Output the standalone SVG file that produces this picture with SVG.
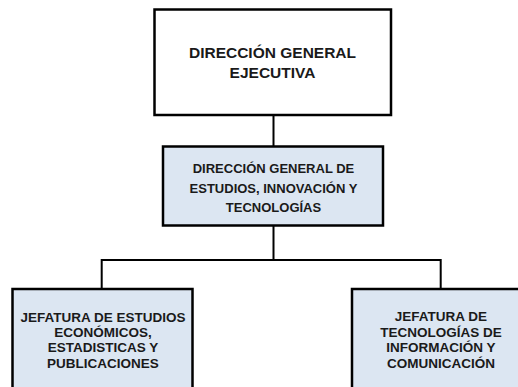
<svg xmlns="http://www.w3.org/2000/svg" width="518" height="387" viewBox="0 0 518 387">
<style>
.box{stroke:#000;stroke-width:2.5}
.white{fill:#fff}
.blue{fill:#dce6f2}
.t{font-family:"Liberation Sans",Arial,sans-serif;font-weight:bold;text-anchor:middle;fill:#1a1a1a}
.conn{stroke:#000;stroke-width:2;fill:none}
</style>
<rect width="518" height="387" fill="#fff"/>
<g id="connectors">
<line class="conn" x1="273.5" y1="115" x2="273.5" y2="146.5"/>
<line class="conn" x1="273.5" y1="225.5" x2="273.5" y2="260"/>
<polyline class="conn" points="101.7,289 101.7,260 440.7,260 440.7,289"/>
</g>
<g id="n_direccion_general_ejecutiva">
<rect class="box white" x="154.5" y="9.5" width="236.5" height="105.5"/>
<text class="t" font-size="15.5"><tspan x="272.5" y="58">DIRECCIÓN GENERAL</tspan><tspan x="272.5" y="78">EJECUTIVA</tspan></text>
</g>
<g id="n_direccion_general_estudios">
<rect class="box blue" x="163" y="146.5" width="220" height="79"/>
<text class="t" font-size="13"><tspan x="273.5" y="172.7">DIRECCIÓN GENERAL DE</tspan><tspan x="273.5" y="192.5">ESTUDIOS, INNOVACIÓN  Y</tspan><tspan x="273.5" y="211.5">TECNOLOGÍAS</tspan></text>
</g>
<g id="n_jefatura_estudios">
<rect class="box blue" x="12.5" y="289" width="180" height="110"/>
<text class="t" font-size="13.5"><tspan x="103" y="321.7">JEFATURA DE ESTUDIOS</tspan><tspan x="103" y="337">ECONÓMICOS,</tspan><tspan x="103" y="352.3">ESTADISTICAS Y</tspan><tspan x="103" y="368">PUBLICACIONES</tspan></text>
</g>
<g id="n_jefatura_tecnologias">
<rect class="box blue" x="352" y="289" width="180" height="110"/>
<text class="t" font-size="13.5"><tspan x="441" y="321.3">JEFATURA DE</tspan><tspan x="441" y="336.8">TECNOLOGÍAS DE</tspan><tspan x="441" y="352.3">INFORMACIÓN Y</tspan><tspan x="441" y="368.2">COMUNICACIÓN</tspan></text>
</g>
</svg>
